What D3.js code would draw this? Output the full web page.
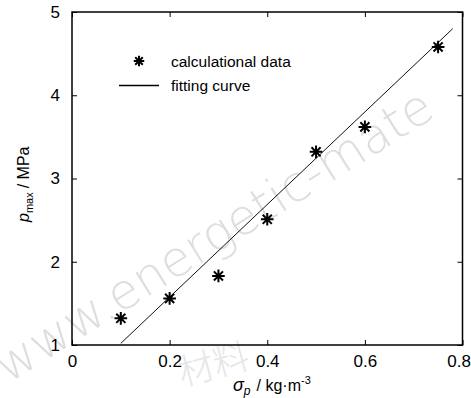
<!DOCTYPE html>
<html>
<head>
<meta charset="utf-8">
<script src="https://cdn.jsdelivr.net/npm/d3@7"></script>
<style>
  body { margin: 0; background: #fff; }
  text { font-family: "Liberation Sans", Arial, sans-serif; }
</style>
</head>
<body>
<script>
// measured data (sigma_p, p_max)
var sigmaP = [0.1, 0.2, 0.3, 0.4, 0.5, 0.6, 0.75];
var pMax = [1.32, 1.56, 1.83, 2.51, 3.32, 3.62, 4.58];
// fitted line, end points
var fitX = [0.1, 0.78];
var fitY = [1.02, 4.8];
var xTicks = [0, 0.2, 0.4, 0.6, 0.8];
var yTicks = [1, 2, 3, 4, 5];
var legendLabels = ["calculational data", "fitting curve"];

var W = 471, H = 398;
var margin = {top: 12, right: 8, bottom: 53, left: 72};

var svg = d3.select("body").append("svg")
    .attr("width", W)
    .attr("height", H);

var x = d3.scaleLinear().domain([0, 0.8]).range([margin.left, W - margin.right - 0.5]);
var y = d3.scaleLinear().domain([1, 5]).range([H - margin.bottom, margin.top]);

// watermark
svg.append("text")
    .attr("transform", "translate(8,384) rotate(-32)")
    .attr("font-size", 49)
    .attr("font-weight", 200)
    .attr("fill", "#dedede")
    .style("font-family", "'DejaVu Sans', sans-serif")
    .text("www.energetic-mate");
svg.append("text")
    .attr("transform", "translate(182,386) rotate(-15)")
    .attr("font-size", 36)
    .attr("fill", "#e6e6e6")
    .style("font-family", "'Noto Sans CJK SC', sans-serif")
    .style("font-weight", 300)
    .text("材料");

// axes with inward ticks
var tick = 5;
svg.append("g")
    .attr("transform", "translate(0," + y(1) + ")")
    .call(d3.axisBottom(x).tickValues(xTicks).tickSize(-tick).tickPadding(10)
      .tickFormat(function(d) { return d === 0 ? "0" : d3.format(".1f")(d); }))
    .call(function(g) { g.select(".domain").remove(); })
    .call(function(g) {
      g.selectAll(".tick text").filter(function(d) { return d === 0.8; })
        .attr("text-anchor", "end").attr("dx", 8);
    });
svg.append("g")
    .attr("transform", "translate(0," + y(5) + ")")
    .call(d3.axisTop(x).tickValues(xTicks).tickSize(-tick).tickFormat(""))
    .call(function(g) { g.select(".domain").remove(); });
svg.append("g")
    .attr("transform", "translate(" + x(0) + ",0)")
    .call(d3.axisLeft(y).tickValues(yTicks).tickSize(-tick).tickPadding(12).tickFormat(d3.format("d")))
    .call(function(g) { g.select(".domain").remove(); });
svg.append("g")
    .attr("transform", "translate(" + x(0.8) + ",0)")
    .call(d3.axisRight(y).tickValues(yTicks).tickSize(-tick).tickFormat(""))
    .call(function(g) { g.select(".domain").remove(); });

svg.selectAll(".tick text")
    .attr("font-size", 17)
    .attr("fill", "#000")
    .style("font-family", "'Liberation Sans', Arial, sans-serif");
svg.selectAll(".tick line").attr("stroke", "#000");

// frame
svg.append("rect")
    .attr("x", x(0))
    .attr("y", y(5))
    .attr("width", x(0.8) - x(0))
    .attr("height", y(1) - y(5))
    .attr("fill", "none")
    .attr("stroke", "#000")
    .attr("stroke-width", 1.5);

// fitting line
var line = d3.line()
    .x(function(d) { return x(d[0]); })
    .y(function(d) { return y(d[1]); });
svg.append("path")
    .attr("d", line(d3.zip(fitX, fitY)))
    .attr("fill", "none")
    .attr("stroke", "#111")
    .attr("stroke-width", 1);

// asterisk marker (plus + cross)
var star = {
  draw: function(ctx, size) {
    var r = Math.sqrt(size) / 2, q = r * 0.72;
    ctx.moveTo(-r, 0); ctx.lineTo(r, 0);
    ctx.moveTo(0, -r); ctx.lineTo(0, r);
    ctx.moveTo(-q, -q); ctx.lineTo(q, q);
    ctx.moveTo(-q, q); ctx.lineTo(q, -q);
  }
};
var starPath = d3.symbol().type(star).size(160)();

svg.selectAll(".pt")
    .data(d3.zip(sigmaP, pMax))
  .enter().append("path")
    .attr("class", "pt")
    .attr("transform", function(d) { return "translate(" + x(d[0]) + "," + y(d[1]) + ")"; })
    .attr("d", starPath)
    .attr("fill", "none")
    .attr("stroke", "#000")
    .attr("stroke-width", 2);

// legend
var lg = svg.append("g").attr("transform", "translate(119,61)");
lg.append("path")
    .attr("transform", "translate(20,0)")
    .attr("d", d3.symbol().type(star).size(110)())
    .attr("fill", "none")
    .attr("stroke", "#000")
    .attr("stroke-width", 2);
lg.append("text")
    .attr("x", 52).attr("y", 5.5)
    .attr("font-size", 15.5)
    .text(legendLabels[0]);
lg.append("line")
    .attr("x1", 0).attr("x2", 40)
    .attr("y1", 24.5).attr("y2", 24.5)
    .attr("stroke", "#000")
    .attr("stroke-width", 1.5);
lg.append("text")
    .attr("x", 52).attr("y", 30)
    .attr("font-size", 15.5)
    .text(legendLabels[1]);

// axis titles
var xt = svg.append("text")
    .attr("x", 233).attr("y", 391)
    .attr("font-size", 16);
xt.append("tspan").attr("font-style", "italic").attr("font-size", 18).text("σ");
xt.append("tspan").attr("font-style", "italic").attr("font-size", 12).attr("dy", 4).text("p");
xt.append("tspan").attr("dy", -4).attr("dx", 6).text("/ kg·m");
xt.append("tspan").attr("font-size", 11).attr("dy", -7).text("-3");

var yt = svg.append("text")
    .attr("transform", "translate(29,222) rotate(-90)")
    .attr("font-size", 16);
yt.append("tspan").attr("font-style", "italic").text("p");
yt.append("tspan").attr("font-size", 11).attr("dy", 4).text("max");
yt.append("tspan").attr("dy", -4).attr("dx", 4).text("/ MPa");
</script>
</body>
</html>
